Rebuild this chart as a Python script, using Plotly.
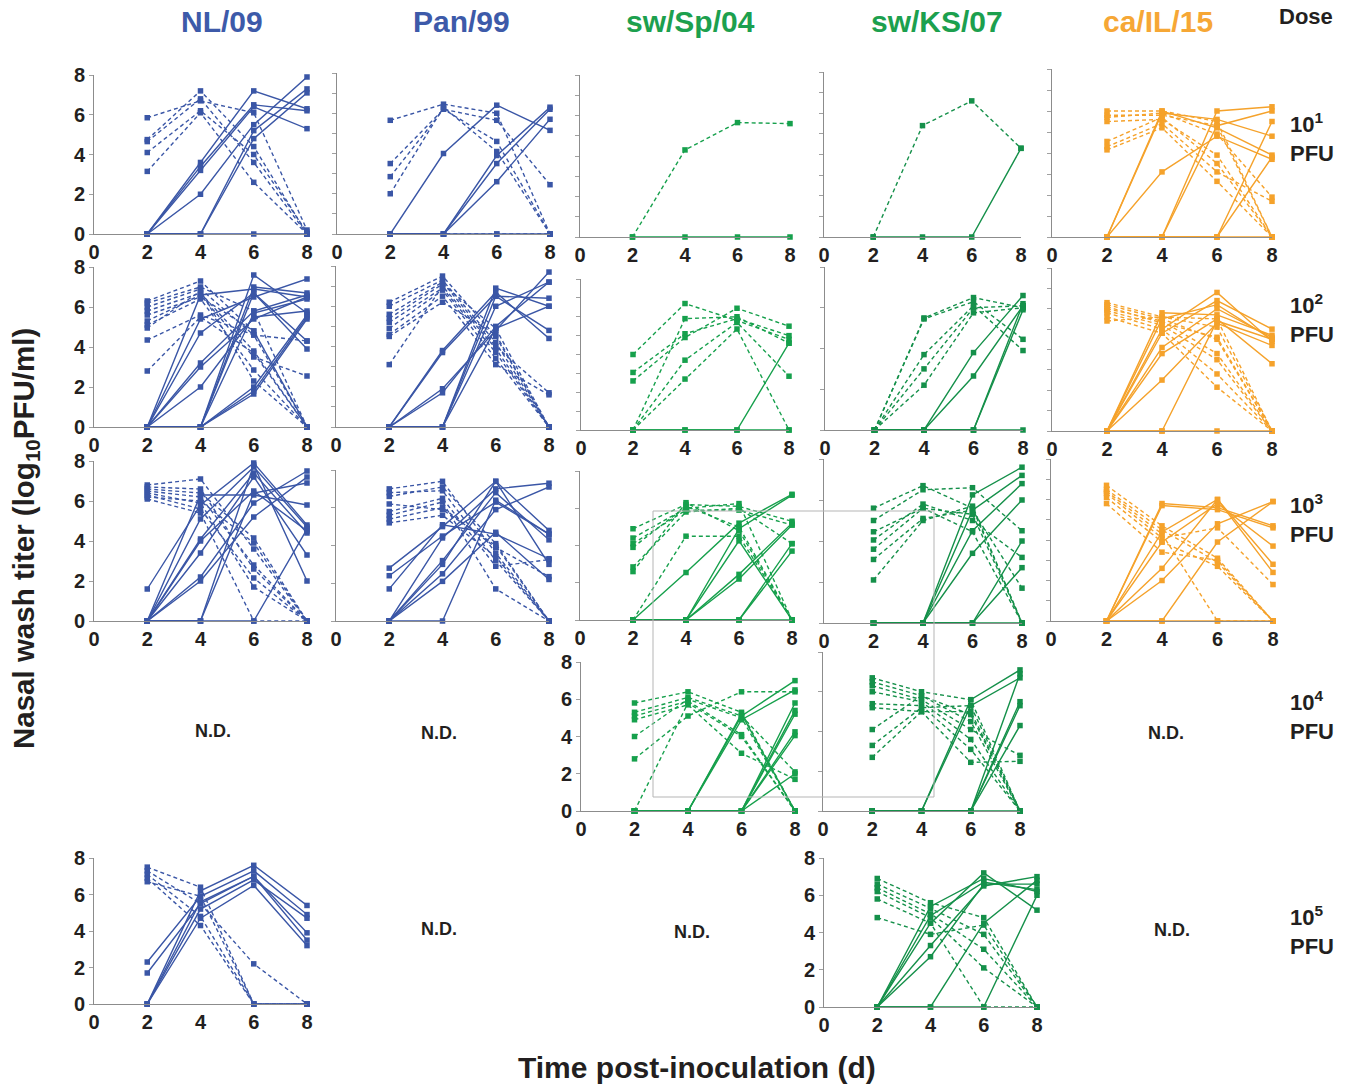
import plotly.graph_objects as go

W, H = 1352, 1085
days = [2, 4, 6, 8]
x_ticks = [0, 2, 4, 6, 8]
y_ticks = [0, 2, 4, 6, 8]
strains = ["NL/09", "Pan/99", "sw/Sp/04", "sw/KS/07", "ca/IL/15"]
dose_exps = ["1", "2", "3", "4", "5"]

# ---------------- data: log10 PFU/ml at days 2,4,6,8 ----------------
# dashed = inoculated donors, solid = contacts
nl09_1_donor = [[5.85, 6.7, 6.1, 0.2], [4.75, 7.2, 4.4, 0], [4.65, 6.8, 3.6, 0], [4.1, 6.2, 4.0, 0.1], [3.15, 6.1, 2.6, 0]]
nl09_1_contact = [[0, 3.6, 7.2, 6.3], [0, 3.4, 6.5, 6.2], [0, 3.2, 6.4, 5.3], [0, 2.0, 5.5, 7.9],
                  [0, 0, 5.2, 7.3], [0, 0, 4.8, 7.1], [0, 0, 0, 0]]
pan99_1_donor = [[5.65, 6.45, 6.0, 0], [3.5, 6.2, 5.65, 2.45], [2.85, 6.2, 4.6, 0], [2.0, 6.3, 4.1, 0], [0, 0, 0, 0]]
pan99_1_contact = [[0, 4.0, 6.4, 5.15], [0, 0, 3.9, 6.3], [0, 0, 3.5, 6.2], [0, 0, 2.6, 5.7], [0, 0, 0, 0]]
swsp04_1_donor = [[0, 4.3, 5.65, 5.6]]
swsp04_1_contact = [[0, 0, 0, 0]]
swks07_1_donor = [[0, 5.4, 6.6, 4.3]]
swks07_1_contact = [[0, 0, 0, 4.3]]
cail15_1_donor = [[6.0, 6.0, 5.5, 0], [5.8, 5.8, 5.3, 0], [5.7, 5.9, 4.9, 1.9], [5.5, 5.6, 3.9, 0],
                  [4.55, 5.7, 3.5, 0], [4.3, 5.4, 3.1, 1.7], [4.15, 5.2, 2.65, 0]]
cail15_1_contact = [[0, 5.9, 5.6, 4.8], [0, 6.0, 5.2, 3.9], [0, 3.1, 4.8, 3.7], [0, 0, 6.0, 6.2],
                    [0, 0, 5.3, 6.0], [0, 0, 0, 5.5], [0, 0, 0, 3.8], [0, 0, 0, 0]]

nl09_2_donor = [[6.3, 7.3, 4.8, 0], [6.2, 7.0, 5.8, 0], [6.0, 6.9, 4.6, 4.3], [5.8, 6.7, 3.8, 0],
                [5.6, 6.5, 4.8, 0], [5.3, 6.6, 3.5, 2.55], [5.1, 6.4, 2.85, 0], [4.95, 6.8, 2.3, 0],
                [4.35, 5.6, 4.6, 0], [2.8, 5.5, 3.7, 0]]
nl09_2_contact = [[0, 6.6, 6.9, 6.5], [0, 5.4, 6.5, 7.4], [0, 4.7, 6.7, 3.9], [0, 3.2, 5.8, 6.6],
                  [0, 3.0, 5.4, 6.5], [0, 2.0, 5.5, 5.8], [0, 0, 7.6, 5.7], [0, 0, 7.0, 6.7],
                  [0, 0, 6.7, 4.3], [0, 0, 5.7, 6.4], [0, 0, 2.0, 5.6], [0, 0, 1.8, 5.5], [0, 0, 1.65, 5.4]]
pan99_2_donor = [[6.2, 7.5, 4.5, 0], [6.0, 7.3, 4.2, 0], [5.6, 7.2, 4.0, 1.7], [5.4, 7.1, 4.9, 0],
                 [5.2, 6.9, 3.7, 0], [4.9, 6.8, 3.4, 0], [4.6, 6.5, 3.1, 1.6], [4.5, 6.2, 4.6, 0], [3.1, 7.0, 3.9, 0]]
pan99_2_contact = [[0, 3.8, 6.7, 4.4], [0, 3.7, 6.5, 4.8], [0, 1.9, 4.8, 7.7], [0, 1.7, 5.0, 7.2],
                   [0, 0, 6.9, 6.0], [0, 0, 6.5, 6.4], [0, 0, 4.9, 6.0], [0, 0, 6.0, 7.2]]
swsp04_2_donor = [[4.0, 6.7, 5.8, 4.8], [3.05, 5.1, 5.9, 5.0], [2.6, 4.9, 6.45, 5.5], [0, 5.9, 6.0, 4.6],
                  [0, 3.7, 5.7, 2.85], [0, 2.7, 5.35, 0]]
swsp04_2_contact = [[0, 0, 0, 4.6], [0, 0, 0, 0]]
swks07_2_donor = [[0, 5.5, 6.5, 6.0], [0, 5.45, 6.3, 4.45], [0, 3.7, 6.1, 3.9], [0, 3.0, 6.0, 6.1], [0, 2.2, 5.75, 6.0]]
swks07_2_contact = [[0, 0, 3.8, 6.6], [0, 0, 2.65, 6.1], [0, 0, 0, 6.2], [0, 0, 0, 5.9], [0, 0, 0, 0]]
cail15_2_donor = [[6.3, 5.6, 5.1, 0], [6.2, 5.5, 4.5, 0], [6.0, 5.4, 3.8, 0], [5.9, 5.2, 3.5, 0],
                  [5.8, 5.0, 2.8, 0], [5.6, 4.8, 2.15, 0], [5.4, 5.6, 5.5, 0], [6.1, 5.3, 4.6, 0]]
cail15_2_contact = [[0, 5.8, 5.7, 4.7], [0, 5.5, 6.2, 4.5], [0, 5.0, 6.8, 4.4], [0, 4.8, 6.4, 5.0],
                    [0, 4.1, 6.0, 4.6], [0, 3.8, 5.5, 3.3], [0, 2.5, 5.3, 4.2], [0, 0, 5.4, 4.5], [0, 0, 0, 0]]

nl09_3_donor = [[6.8, 7.1, 3.6, 0], [6.7, 6.6, 2.6, 0], [6.6, 6.4, 4.15, 0], [6.5, 6.2, 2.8, 0],
                [6.4, 5.9, 1.7, 0], [6.3, 5.6, 2.15, 0], [6.1, 5.4, 0, 0], [6.2, 6.0, 3.9, 0]]
nl09_3_contact = [[1.6, 5.8, 7.9, 4.8], [0, 5.1, 7.7, 4.7], [0, 4.1, 7.4, 4.4], [0, 6.3, 6.3, 5.8],
                  [0, 3.4, 7.2, 3.3], [0, 2.2, 5.9, 7.5], [0, 2.0, 5.2, 7.2], [0, 0, 7.8, 2.0],
                  [0, 0, 6.4, 6.9], [0, 0, 0, 4.6], [0, 4.0, 6.5, 4.5]]
pan99_3_donor = [[7.0, 7.4, 3.6, 0], [6.8, 6.9, 3.2, 0], [6.6, 7.1, 4.1, 0], [5.8, 6.5, 2.9, 3.25],
                 [5.6, 6.3, 1.7, 0], [5.4, 6.0, 3.9, 2.35], [5.2, 5.6, 3.4, 0], [6.2, 5.9, 4.0, 0]]
pan99_3_contact = [[2.8, 5.0, 7.4, 4.8], [2.4, 4.5, 6.3, 4.6], [1.7, 5.1, 4.6, 3.3], [0, 4.4, 7.0, 7.3],
                   [0, 3.2, 6.8, 4.3], [0, 2.5, 5.9, 7.1], [0, 2.1, 4.7, 2.2], [0, 0, 6.4, 4.6], [0, 3.0, 7.4, 3.0]]
swsp04_3_donor = [[4.9, 6.2, 6.1, 5.3], [4.4, 6.0, 6.25, 0], [4.1, 5.9, 5.9, 5.1], [3.9, 6.1, 5.0, 0],
                  [2.85, 5.8, 6.0, 4.1], [2.6, 6.3, 4.8, 0], [0, 4.5, 4.5, 0]]
swsp04_3_contact = [[0, 2.55, 5.2, 6.75], [0, 0, 4.9, 6.7], [0, 0, 4.25, 0], [0, 0, 2.45, 5.2],
                    [0, 0, 2.2, 5.1], [0, 0, 0, 4.1], [0, 0, 0, 3.7], [0, 0, 0, 0]]
swks07_3_donor = [[5.6, 6.7, 5.6, 0], [5.0, 6.5, 6.6, 4.5], [4.45, 5.6, 5.3, 0], [4.05, 5.8, 5.0, 3.2],
                  [3.6, 5.6, 4.45, 0], [3.1, 5.1, 5.5, 1.7], [2.1, 5.0, 5.7, 0]]
swks07_3_contact = [[0, 0, 6.25, 7.6], [0, 0, 5.5, 7.2], [0, 0, 4.5, 6.8], [0, 0, 3.4, 6.0],
                    [0, 0, 0, 4.0], [0, 0, 0, 2.7], [0, 0, 0, 0]]
cail15_3_donor = [[6.7, 4.7, 3.1, 0], [6.5, 4.5, 2.9, 0], [6.4, 4.3, 0, 0], [6.3, 4.1, 4.6, 1.8],
                  [6.1, 3.9, 2.7, 0], [5.8, 3.4, 3.0, 0]]
cail15_3_contact = [[0, 5.8, 5.6, 4.7], [0, 5.7, 5.5, 4.6], [0, 4.4, 6.0, 2.8], [0, 3.9, 5.8, 3.7],
                    [0, 2.6, 6.0, 2.4], [0, 2.0, 4.8, 5.9], [0, 0, 3.9, 5.9], [0, 0, 0, 0]]

swsp04_4_donor = [[5.8, 6.4, 5.3, 0], [5.3, 6.1, 5.1, 2.1], [5.1, 5.9, 4.1, 0], [4.9, 5.7, 3.1, 1.7],
                  [4.0, 6.0, 5.0, 0], [2.8, 5.1, 6.4, 6.4], [0, 5.8, 4.0, 0]]
swsp04_4_contact = [[0, 0, 5.1, 7.0], [0, 0, 4.9, 6.5], [0, 0, 0, 5.8], [0, 0, 0, 5.4], [0, 0, 0, 5.2],
                    [0, 0, 0, 4.25], [0, 0, 0, 4.05], [0, 0, 0, 2.0], [0, 0, 5.2, 0]]
swks07_4_donor = [[6.7, 6.0, 5.6, 0], [6.5, 5.8, 4.85, 0], [6.3, 5.6, 4.1, 2.8], [6.0, 5.5, 3.6, 0],
                  [5.4, 5.3, 3.1, 0], [5.2, 5.0, 2.45, 2.5], [4.1, 5.8, 4.5, 0], [3.3, 5.2, 5.3, 0], [2.7, 5.0, 5.0, 0]]
swks07_4_contact = [[0, 0, 5.6, 7.1], [0, 0, 5.3, 6.7], [0, 0, 0, 6.9], [0, 0, 0, 5.5], [0, 0, 0, 5.3],
                    [0, 0, 0, 4.3], [0, 0, 0, 0]]

nl09_5_donor = [[7.5, 6.4, 0, 0], [7.3, 5.5, 2.2, 0], [7.1, 4.8, 0, 0], [6.9, 4.3, 0, 0], [6.7, 5.9, 0, 0]]
nl09_5_contact = [[2.3, 5.9, 7.3, 4.9], [1.7, 5.5, 7.0, 3.9], [0, 6.2, 7.6, 5.4], [0, 5.2, 6.8, 4.7],
                  [0, 4.7, 6.5, 3.2], [0, 5.6, 7.0, 3.5]]
swks07_5_donor = [[6.9, 5.6, 4.8, 0], [6.6, 5.3, 3.9, 0], [6.4, 5.0, 3.1, 0], [6.2, 4.8, 2.1, 0],
                  [5.8, 4.5, 0, 0], [4.8, 3.9, 4.4, 0]]
swks07_5_contact = [[0, 5.4, 6.9, 6.2], [0, 4.9, 6.7, 6.3], [0, 4.5, 7.2, 5.2], [0, 3.3, 6.5, 7.0],
                    [0, 2.7, 6.6, 6.6], [0, 0, 4.5, 6.8], [0, 0, 0, 6.0]]

# ---------------- styles / layout ----------------
BLUE = "#3a56a6"
GREEN1 = "#16a04c"
GREEN2 = "#15904a"
ORANGE = "#f5a22b"
TITLE_COLORS = ["#3d5aa9", "#3d5aa9", "#1ca04e", "#1ca04e", "#f6a735"]
AXIS_GRAY = "#8c8c8c"
TEXT = "#231f20"
FONT = "Liberation Sans, Arial, sans-serif"

# (donor, contact, color, (x0px, x8px, y0px, y8px), show y labels, y tick step)
panels = [
    (nl09_1_donor, nl09_1_contact, BLUE, (94, 307, 234, 75), True, 2),
    (pan99_1_donor, pan99_1_contact, BLUE, (337, 550, 234, 73), False, 1),
    (swsp04_1_donor, swsp04_1_contact, GREEN1, (580, 790, 237, 75), False, 1),
    (swks07_1_donor, swks07_1_contact, GREEN2, (824, 1021, 237, 72), False, 1),
    (cail15_1_donor, cail15_1_contact, ORANGE, (1052, 1272, 237, 69), False, 1),
    (nl09_2_donor, nl09_2_contact, BLUE, (94, 307, 427, 267), True, 2),
    (pan99_2_donor, pan99_2_contact, BLUE, (336, 549, 427, 266), False, 1),
    (swsp04_2_donor, swsp04_2_contact, GREEN1, (581, 789, 430, 279), False, 1),
    (swks07_2_donor, swks07_2_contact, GREEN2, (825, 1023, 430, 267), False, 2),
    (cail15_2_donor, cail15_2_contact, ORANGE, (1052, 1272, 431, 268), False, 1),
    (nl09_3_donor, nl09_3_contact, BLUE, (94, 307, 621, 461), True, 2),
    (pan99_3_donor, pan99_3_contact, BLUE, (336, 549, 621, 470), False, 2),
    (swsp04_3_donor, swsp04_3_contact, GREEN1, (580, 792, 620, 471), False, 2),
    (swks07_3_donor, swks07_3_contact, GREEN2, (824, 1022, 623, 459), False, 2),
    (cail15_3_donor, cail15_3_contact, ORANGE, (1051, 1273, 621, 459), False, 1),
    (swsp04_4_donor, swsp04_4_contact, GREEN1, (581, 795, 811, 662), True, 2),
    (swks07_4_donor, swks07_4_contact, GREEN2, (823, 1020, 811, 652), False, 2),
    (nl09_5_donor, nl09_5_contact, BLUE, (94, 307, 1004, 858), True, 2),
    (swks07_5_donor, swks07_5_contact, GREEN2, (824, 1037, 1007, 858), True, 2),
]

fig = go.Figure()
layout = {}
for i, (donor, contact, color, (x0, x8, y0, y8), ylab, step) in enumerate(panels, start=1):
    xa = "x" if i == 1 else f"x{i}"
    ya = "y" if i == 1 else f"y{i}"
    for series, dash in ((donor, "4px,3px"), (contact, "solid")):
        for vals in series:
            fig.add_trace(go.Scatter(
                x=days, y=vals, xaxis=xa, yaxis=ya, mode="lines+markers",
                line=dict(color=color, width=1.4, dash=dash),
                marker=dict(symbol="square", size=5.5, color=color),
                cliponaxis=False, hoverinfo="skip", showlegend=False))
    xkey = "xaxis" if i == 1 else f"xaxis{i}"
    ykey = "yaxis" if i == 1 else f"yaxis{i}"
    layout[xkey] = dict(
        domain=[x0 / W, x8 / W], range=[0, 8], anchor=ya,
        showline=True, linecolor=AXIS_GRAY, linewidth=1,
        showgrid=False, zeroline=False,
        tickvals=x_ticks, ticks="",
        tickfont=dict(family=FONT, size=20, color=TEXT, weight="bold"),
        fixedrange=True)
    yd = dict(
        domain=[1 - y0 / H, 1 - y8 / H], range=[0, 8], anchor=xa,
        showline=True, linecolor=AXIS_GRAY, linewidth=1,
        showgrid=False, zeroline=False,
        ticks="outside", ticklen=4, tickcolor="#a0a0a0",
        tickfont=dict(family=FONT, size=20, color=TEXT, weight="bold"),
        fixedrange=True)
    if ylab:
        yd.update(tickvals=y_ticks, showticklabels=True)
    else:
        yd.update(tickmode="linear", tick0=0, dtick=step, showticklabels=False)
    layout[ykey] = yd

annotations = []


def ann(text, x, y, size, color=TEXT, xanchor="center", **kw):
    annotations.append(dict(text=text, x=x / W, y=1 - y / H, xref="paper", yref="paper",
                            xanchor=xanchor, yanchor="middle", showarrow=False,
                            font=dict(family=FONT, size=size, color=color), **kw))


title_x = [222, 461, 690, 937, 1158]
for name, cx, col in zip(strains, title_x, TITLE_COLORS):
    ann(f"<b>{name}</b>", cx, 22, 30, col)
ann("<b>Dose</b>", 1306, 17, 22)

dose_y = [138, 318, 518, 715, 930]
for e, cy in zip(dose_exps, dose_y):
    ann(f"<b>10<sup>{e}</sup><br>PFU</b>", 1288, cy, 22, xanchor="left", align="left")

nd_pos = [(213, 731), (439, 733), (1166, 733), (439, 929), (692, 932), (1172, 930)]
for (cx, cy) in nd_pos:
    ann("<b>N.D.</b>", cx, cy, 18)

ann("<b>Nasal wash titer (log<sub>10</sub>PFU/ml)</b>", 25, 539, 29.5, textangle=-90)
ann("<b>Time post-inoculation (d)</b>", 697, 1067, 30)

fig.update_layout(
    width=W, height=H, margin=dict(l=0, r=0, t=0, b=0, autoexpand=False),
    paper_bgcolor="white", plot_bgcolor="white", showlegend=False,
    annotations=annotations,
    shapes=[dict(type="rect", xref="paper", yref="paper",
                 x0=653 / W, x1=934 / W, y0=1 - 797 / H, y1=1 - 511 / H,
                 line=dict(color="#b5b5b5", width=1), layer="above")],
    **layout)

fig.write_html("out.html", config={"displayModeBar": False},
               post_script="document.body.style.margin='0';")
